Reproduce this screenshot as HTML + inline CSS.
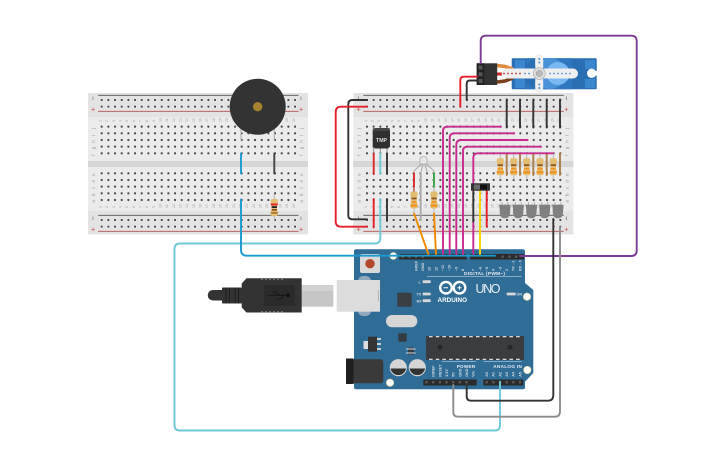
<!DOCTYPE html>
<html><head><meta charset="utf-8"><title>Circuit</title>
<style>
html,body{margin:0;padding:0;background:#fff;width:725px;height:453px;overflow:hidden}
svg{display:block}
text{font-family:"Liberation Sans",sans-serif}
.n{font-size:3.6px;fill:#a5a5a5}
.l{font-size:4.6px;fill:#999}
.p{font-size:3.7px;font-weight:bold;fill:#d5dee5}
.w{fill:none;stroke-linecap:round;stroke-linejoin:round;stroke-width:1.9}
</style></head><body>
<svg width="725" height="453" viewBox="0 0 725 453" xmlns="http://www.w3.org/2000/svg">
<defs>
<pattern id="h" patternUnits="userSpaceOnUse" width="6.667" height="6.667" patternTransform="translate(3.7,3.67)">
<circle cx="3.33" cy="3.33" r="1.9" fill="#f2f2f2"/><circle cx="3.33" cy="3.33" r="1.15" fill="#4a4a4a"/>
</pattern>
<g id="nums">
<text class="n" x="15" y="0" transform="rotate(-90 15 0)">1</text><text class="n" x="21.7" y="0" transform="rotate(-90 21.7 0)">2</text><text class="n" x="28.4" y="0" transform="rotate(-90 28.4 0)">3</text><text class="n" x="35" y="0" transform="rotate(-90 35 0)">4</text><text class="n" x="41.7" y="0" transform="rotate(-90 41.7 0)">5</text><text class="n" x="48.4" y="0" transform="rotate(-90 48.4 0)">6</text><text class="n" x="55" y="0" transform="rotate(-90 55 0)">7</text><text class="n" x="61.7" y="0" transform="rotate(-90 61.7 0)">8</text><text class="n" x="68.4" y="0" transform="rotate(-90 68.4 0)">9</text><text class="n" x="75" y="0" transform="rotate(-90 75 0)">10</text><text class="n" x="81.7" y="0" transform="rotate(-90 81.7 0)">11</text><text class="n" x="88.4" y="0" transform="rotate(-90 88.4 0)">12</text><text class="n" x="95" y="0" transform="rotate(-90 95 0)">13</text><text class="n" x="101.7" y="0" transform="rotate(-90 101.7 0)">14</text><text class="n" x="108.4" y="0" transform="rotate(-90 108.4 0)">15</text><text class="n" x="115" y="0" transform="rotate(-90 115 0)">16</text><text class="n" x="121.7" y="0" transform="rotate(-90 121.7 0)">17</text><text class="n" x="128.4" y="0" transform="rotate(-90 128.4 0)">18</text><text class="n" x="135" y="0" transform="rotate(-90 135 0)">19</text><text class="n" x="141.7" y="0" transform="rotate(-90 141.7 0)">20</text><text class="n" x="148.4" y="0" transform="rotate(-90 148.4 0)">21</text><text class="n" x="155" y="0" transform="rotate(-90 155 0)">22</text><text class="n" x="161.7" y="0" transform="rotate(-90 161.7 0)">23</text><text class="n" x="168.4" y="0" transform="rotate(-90 168.4 0)">24</text><text class="n" x="175" y="0" transform="rotate(-90 175 0)">25</text><text class="n" x="181.7" y="0" transform="rotate(-90 181.7 0)">26</text><text class="n" x="188.4" y="0" transform="rotate(-90 188.4 0)">27</text><text class="n" x="195" y="0" transform="rotate(-90 195 0)">28</text><text class="n" x="201.7" y="0" transform="rotate(-90 201.7 0)">29</text><text class="n" x="208.4" y="0" transform="rotate(-90 208.4 0)">30</text>
</g>
<g id="let">
<text class="l" x="0" y="35.3" transform="rotate(-90 0 35.3) translate(-1 0)">j</text><text class="l" x="0" y="42" transform="rotate(-90 0 42) translate(-1 0)">i</text><text class="l" x="0" y="48.7" transform="rotate(-90 0 48.7) translate(-1 0)">h</text><text class="l" x="0" y="55.3" transform="rotate(-90 0 55.3) translate(-1 0)">g</text><text class="l" x="0" y="62" transform="rotate(-90 0 62) translate(-1 0)">f</text>
<text class="l" x="0" y="82" transform="rotate(-90 0 82) translate(-1 0)">e</text><text class="l" x="0" y="88.7" transform="rotate(-90 0 88.7) translate(-1 0)">d</text><text class="l" x="0" y="95.3" transform="rotate(-90 0 95.3) translate(-1 0)">c</text><text class="l" x="0" y="102" transform="rotate(-90 0 102) translate(-1 0)">b</text><text class="l" x="0" y="108.7" transform="rotate(-90 0 108.7) translate(-1 0)">a</text>
</g>
<g id="bb">
<rect x="0" y="0" width="220" height="141.5" rx="1.5" fill="#e3e3e3"/>
<rect x="0" y="24" width="220" height="44" fill="#ebebeb"/>
<rect x="0" y="74" width="220" height="44" fill="#ebebeb"/>
<rect x="0" y="68" width="220" height="6" fill="#d6d6d6"/>
<path d="M10 2.3H210.5M10 122.3H210.5" stroke="#555" stroke-width=".8"/>
<path d="M10 18.3H210.5M10 138.3H210.5" stroke="#b5504f" stroke-width=".8"/>
<rect x="10.4" y="3.67" width="200" height="13.33" fill="url(#h)"/>
<rect x="10.4" y="30.33" width="200" height="33.33" fill="url(#h)"/>
<rect x="10.4" y="77" width="200" height="33.33" fill="url(#h)"/>
<rect x="10.4" y="123.67" width="200" height="13.33" fill="url(#h)"/>
<use href="#nums" transform="translate(-1.5,29)"/>
<use href="#nums" transform="translate(-1.5,115)"/>
<use href="#let" transform="translate(7,0)"/>
<use href="#let" transform="translate(215,0)"/>
<path d="M5 3.5V7M213 3.5V7M5 123.5V127M213 123.5V127" stroke="#666" stroke-width=".6"/>
<path d="M3.3 16.3H7M5.1 14.5V18.1M211.3 16.3H215M213.1 14.5V18.1M3.3 136.3H7M5.1 134.5V138.1M211.3 136.3H215M213.1 134.5V138.1" stroke="#c9605f" stroke-width=".7"/>
</g>
<g id="res0">
<path d="M0 -8.5V-13M0 8.5V13" stroke="#b5b5b5" stroke-width="1"/>
<path d="M-2 -8.5Q-3.5 -8.5 -3.5 -6.5V-4L-2.7 -2.5V2.5L-3.5 4V6.5Q-3.5 8.5 -2 8.5H2Q3.5 8.5 3.5 6.5V4L2.7 2.5V-2.5L3.5 -4V-6.5Q3.5 -8.5 2 -8.5Z" fill="#e3bd72"/>
</g>
<g id="res">
<use href="#res0"/>
<rect x="-2.7" y="-2.4" width="5.4" height="1.7" fill="#8a5320"/>
<rect x="-2.7" y="1.2" width="5.4" height="1.7" fill="#ee9320"/>
<rect x="-3.5" y="4.4" width="7" height="2.3" fill="#ee9320"/>
</g>
<g id="led">
<path d="M-3 -9V-6M3 -9V-6" stroke="#aaa" stroke-width="1"/>
<path d="M-6 -6.5H5.5V-4.5L5 1Q5 7 -.2 7Q-5.2 7 -5.2 1L-5.5 -4.5Z" fill="#808080"/>
</g>
</defs>

<!-- breadboards -->
<use href="#bb" transform="translate(88,93)"/>
<use href="#bb" transform="translate(353.3,93)"/>

<!-- Arduino -->
<path d="M356 249.3H522.7Q525 249.3 525 251.5V283L533.3 290V373L525 381.7V387.3Q525 389.3 523 389.3H356Q354 389.3 354 387.3V251.3Q354 249.3 356 249.3Z" fill="#2f6c96"/>
<rect x="399.3" y="254" width="67.4" height="5.5" fill="#2b2b2b"/>
<rect x="470" y="254" width="54" height="5.5" fill="#2b2b2b"/>
<rect x="423.3" y="379.5" width="53.4" height="6" fill="#2b2b2b"/>
<rect x="483.3" y="379.5" width="40" height="6" fill="#2b2b2b"/>
<g fill="#5a5a5a">
<rect x="401.5" y="255.5" width="2.4" height="2.4"/><rect x="408.2" y="255.5" width="2.4" height="2.4"/><rect x="414.8" y="255.5" width="2.4" height="2.4"/><rect x="421.5" y="255.5" width="2.4" height="2.4"/><rect x="501.5" y="255.5" width="2.4" height="2.4"/><rect x="508.2" y="255.5" width="2.4" height="2.4"/><rect x="514.8" y="255.5" width="2.4" height="2.4"/>
<rect x="425.3" y="381" width="2.4" height="2.4"/><rect x="432" y="381" width="2.4" height="2.4"/><rect x="438.7" y="381" width="2.4" height="2.4"/><rect x="445.3" y="381" width="2.4" height="2.4"/><rect x="452" y="381" width="2.4" height="2.4"/><rect x="458.7" y="381" width="2.4" height="2.4"/><rect x="465.3" y="381" width="2.4" height="2.4"/>
<rect x="485.5" y="381" width="2.4" height="2.4"/><rect x="492.2" y="381" width="2.4" height="2.4"/><rect x="498.8" y="381" width="2.4" height="2.4"/><rect x="505.5" y="381" width="2.4" height="2.4"/><rect x="512.2" y="381" width="2.4" height="2.4"/><rect x="518.8" y="381" width="2.4" height="2.4"/>
</g>
<g fill="#fff" stroke="#e8e0b0" stroke-width=".8">
<circle cx="393.3" cy="256" r="3.4"/><circle cx="527" cy="296.7" r="3.6"/><circle cx="527.3" cy="370" r="3.6"/><circle cx="390" cy="382.7" r="3.6"/>
</g>
<rect x="360" y="254" width="20" height="19" rx="2" fill="#d9d9d9"/>
<circle cx="370" cy="263.7" r="4.7" fill="#b5472d"/>
<!-- USB socket -->
<rect x="358" y="276" width="13" height="40" rx="5" fill="#8fa9bd"/>
<rect x="336.7" y="280" width="43.3" height="31.7" fill="#dcdcdc"/>
<rect x="378" y="290" width=".8" height="11" fill="#aaa"/>
<!-- plug -->
<rect x="301.7" y="285" width="31.6" height="21.7" fill="#c6c6c6"/>
<rect x="301.7" y="285" width="31.6" height="6" fill="#d2d2d2"/>
<path d="M246.5 278.3H301.7V312.5H246.5L241.7 307.5V283.5Z" fill="#333"/>
<rect x="222" y="287.5" width="20" height="16" rx="1" fill="#333"/>
<path d="M226 288V303M229.5 288V303M235 288V303M238.5 288V303" stroke="#1d1d1d" stroke-width="1"/>
<path d="M222.3 290H213A5 5 0 0 0 213 300.5H222.3Z" fill="#333"/>
<rect x="264" y="285" width="31" height="20.7" fill="#2a2a2a"/>
<path d="M268 295.3H289M273 292L276 292L279 295.3M277 299H281L283 295.3" stroke="#141414" stroke-width=".8" fill="none"/>
<circle cx="288" cy="295.3" r="2" fill="#141414"/>
<path d="M262 278.8V280M266 278.8V280M270 278.8V280M274 278.8V280M278 278.8V280M282 278.8V280M262 311V312.2M266 311V312.2M270 311V312.2M274 311V312.2M278 311V312.2M282 311V312.2" stroke="#bbb" stroke-width=".9"/>
<!-- board chips -->
<rect x="397.3" y="292.7" width="14.4" height="14" rx=".8" fill="#3a3f44"/>
<rect x="386" y="315" width="31.3" height="12.3" rx="6" fill="#d6d6d6"/>
<rect x="368" y="336.7" width="9" height="15" fill="#333"/>
<rect x="363.5" y="341" width="4.5" height="8" fill="#ddd"/>
<path d="M377 339H381M377 344H381M377 349H381" stroke="#ddd" stroke-width="1.8"/>
<rect x="398.3" y="333.3" width="8.4" height="8.4" rx=".8" fill="#333c42"/>
<rect x="408" y="347.5" width="6" height="7" fill="#333c42"/>
<path d="M406 349H415.5M406 353H415.5" stroke="#ddd" stroke-width="1"/>
<rect x="426" y="336" width="98" height="24" fill="#3a3d40"/>
<path d="M429 336.7H521M429 359.3H521" stroke="#eee" stroke-width="1.2" stroke-dasharray="3.6 3.1"/>
<circle cx="440" cy="347.3" r="2.6" fill="#26282a"/><circle cx="510" cy="347.3" r="2.6" fill="#26282a"/>
<circle cx="398.3" cy="367.7" r="8.6" fill="#d5d5d5"/><path d="M390.6 368.5A7.8 7.8 0 0 0 406 368.5Z" fill="#333"/>
<circle cx="417.3" cy="367.7" r="8.6" fill="#d5d5d5"/><path d="M409.6 368.5A7.8 7.8 0 0 0 425 368.5Z" fill="#333"/>
<rect x="349" y="359.3" width="34.3" height="24" rx="3" fill="#3a3a3a"/>
<rect x="346" y="358.5" width="7.5" height="25.5" fill="#1f1f1f"/>
<!-- small leds -->
<g fill="#d8d8d8"><rect x="422.7" y="280.3" width="8" height="2.8" rx=".6"/><rect x="422.7" y="292.6" width="8" height="2.8" rx=".6"/><rect x="422.7" y="299.3" width="8" height="2.8" rx=".6"/><rect x="506.7" y="292.6" width="9" height="2.8" rx=".6"/></g>
<!-- logo -->
<circle cx="446" cy="287.7" r="5.8" fill="none" stroke="#fff" stroke-width="2.4"/>
<circle cx="459.5" cy="287.7" r="5.8" fill="none" stroke="#fff" stroke-width="2.4"/>
<path d="M443.5 287.7H448M457.5 287.7H461.5M459.5 285.7V289.7" stroke="#fff" stroke-width="1"/>
<text x="437.5" y="301.8" font-size="6.3" font-weight="bold" fill="#fff" textLength="29.5">ARDUINO</text>
<text x="475.5" y="293" font-size="12.5" fill="#e6eef3" textLength="25">UNO</text>
<text x="464" y="275" font-size="4.8" font-weight="bold" fill="#e6eef3" textLength="41">DIGITAL (PWM~)</text>
<path d="M427 276.4H521.7M441.7 361.7H476M483.3 361.7H521.7" stroke="#dfe8ee" stroke-width=".5"/>
<text x="456.7" y="367.8" font-size="4.6" font-weight="bold" fill="#e6eef3" textLength="18.5">POWER</text>
<text x="493.3" y="367.8" font-size="4.6" font-weight="bold" fill="#e6eef3" textLength="28.5">ANALOG IN</text>
<text class="p" x="418.5" y="283.3">L</text><text class="p" x="416.5" y="295.6">TX</text><text class="p" x="416.5" y="302.3">RX</text><text class="p" x="516.5" y="295.6">ON</text>
<text class="p" transform="translate(417.5,271) rotate(-90)">AREF</text><text class="p" transform="translate(424,271) rotate(-90)">GND</text><text class="p" transform="translate(430.7,271) rotate(-90)">13</text><text class="p" transform="translate(437.4,271) rotate(-90)">12</text><text class="p" transform="translate(444,271) rotate(-90)">~11</text><text class="p" transform="translate(450.7,271) rotate(-90)">~10</text><text class="p" transform="translate(457.4,271) rotate(-90)">~9</text><text class="p" transform="translate(464,271) rotate(-90)">8</text>
<text class="p" transform="translate(474.7,271) rotate(-90)">7</text><text class="p" transform="translate(481.4,271) rotate(-90)">~6</text><text class="p" transform="translate(488,271) rotate(-90)">~5</text><text class="p" transform="translate(494.7,271) rotate(-90)">4</text><text class="p" transform="translate(501.4,271) rotate(-90)">~3</text><text class="p" transform="translate(508,271) rotate(-90)">2</text><text class="p" transform="translate(514.7,271) rotate(-90)">TX→1</text><text class="p" transform="translate(521.4,271) rotate(-90)">RX←0</text>
<text class="p" transform="translate(434.7,376.8) rotate(-90)">IOREF</text><text class="p" transform="translate(441.4,376.8) rotate(-90)">RESET</text><text class="p" transform="translate(448,376.8) rotate(-90)">3.3V</text><text class="p" transform="translate(454.7,376.8) rotate(-90)">5V</text><text class="p" transform="translate(461.4,376.8) rotate(-90)">GND</text><text class="p" transform="translate(468,376.8) rotate(-90)">GND</text><text class="p" transform="translate(474.7,376.8) rotate(-90)">Vin</text>
<text class="p" transform="translate(488,376.8) rotate(-90)">A0</text><text class="p" transform="translate(494.7,376.8) rotate(-90)">A1</text><text class="p" transform="translate(501.4,376.8) rotate(-90)">A2</text><text class="p" transform="translate(508,376.8) rotate(-90)">A3</text><text class="p" transform="translate(514.7,376.8) rotate(-90)">A4</text><text class="p" transform="translate(521.4,376.8) rotate(-90)">A5</text>

<!-- servo -->
<rect x="511.7" y="58.3" width="85" height="31" rx="1" fill="#2a6eb4"/>
<rect x="515" y="60" width="10" height="9" fill="#3a86cf"/><rect x="515" y="79" width="10" height="9" fill="#3a86cf"/>
<rect x="585" y="60" width="10" height="9" fill="#3a86cf"/><rect x="585" y="79" width="10" height="9" fill="#3a86cf"/>
<path d="M526 58.3H572V89.3H526Z" fill="#2f78c0"/>
<circle cx="539.3" cy="73.5" r="15.5" fill="#2a6eb4"/>
<circle cx="550" cy="73.5" r="15.5" fill="#4a92d8"/>
<circle cx="558" cy="73.5" r="11.5" fill="#79b8f2"/>
<circle cx="591.7" cy="73.3" r="4.7" fill="#fff"/><rect x="591.7" y="71" width="5.5" height="4.6" fill="#fff"/>
<path d="M497 65.5L505 66.5L513 69" stroke="#e08a3c" stroke-width="3.5" fill="none"/>
<path d="M497 74L513 74" stroke="#c8282c" stroke-width="3"/>
<path d="M497 82L505 81L513 78" stroke="#7a3f1c" stroke-width="3.5" fill="none"/>
<rect x="501.7" y="68.5" width="76.3" height="10" rx="5" fill="#efefef"/>
<path d="M535.3 68.5Q535 60 535.3 58A3.9 3.9 0 0 1 543.1 58Q543.4 60 543.1 68.5V78.5Q543.4 86 543.1 89A3.9 3.9 0 0 1 535.3 89Q535 86 535.3 78.5Z" fill="#efefef"/>
<circle cx="539.3" cy="73.5" r="6" fill="#ddd" stroke="#aaa" stroke-width=".6"/><circle cx="539.3" cy="73.5" r="3" fill="#bbb" stroke="#888" stroke-width=".5"/>
<g fill="#b0333a"><circle cx="504" cy="73.5" r=".9"/><circle cx="508" cy="73.5" r=".9"/><circle cx="512" cy="73.5" r=".9"/><circle cx="516" cy="73.5" r=".9"/><circle cx="520" cy="73.5" r=".9"/></g>
<g fill="#4a90d0"><circle cx="525" cy="73.5" r=".9"/><circle cx="529" cy="73.5" r=".9"/><circle cx="550" cy="73.5" r=".9"/><circle cx="554" cy="73.5" r=".9"/><circle cx="558" cy="73.5" r=".9"/><circle cx="562" cy="73.5" r=".9"/><circle cx="566" cy="73.5" r=".9"/><circle cx="570" cy="73.5" r=".9"/><circle cx="539.3" cy="59" r="1"/><circle cx="539.3" cy="62.5" r="1"/><circle cx="539.3" cy="84.5" r="1"/><circle cx="539.3" cy="88" r="1"/></g>
<rect x="476.7" y="63.3" width="20.5" height="21.7" fill="#333"/>
<rect x="476.7" y="63.3" width="7.5" height="21.7" fill="#222"/>
<rect x="478.5" y="65.5" width="4" height="4" fill="#555"/><rect x="478.5" y="72.3" width="4" height="4" fill="#555"/><rect x="478.5" y="79" width="4" height="4" fill="#555"/>

<!-- buzzer -->
<path d="M241 128V141M274.3 128V141" stroke="#a8a8a8" stroke-width="1"/>
<circle cx="257.7" cy="106.7" r="28" fill="#333"/>
<circle cx="257.7" cy="106.7" r="4.7" fill="#a5822f"/>

<!-- board1 parts -->
<path d="M241 153.5V173.5" class="w" stroke="#1b9ad0"/>
<path d="M274.3 153.5V173.5" class="w" stroke="#444"/>
<use href="#res0" transform="translate(274.3,207.5)"/>
<rect x="270.8" y="203.5" width="7" height="1.9" fill="#d22"/>
<rect x="271.6" y="206.2" width="5.4" height="1.8" fill="#222"/>
<rect x="271.6" y="209" width="5.4" height="1.7" fill="#8a5320"/>
<rect x="270.8" y="212" width="7" height="1.7" fill="#a87a30"/>

<!-- board2 wires -->
<g>
<path class="w" d="M367 100H352.5Q348.3 100 348.3 104V215.5Q348.3 219.3 352.5 219.3H367" stroke="#333"/>
<path class="w" d="M367 106.7H341Q335.7 106.7 335.7 112V221.5Q335.7 226.7 341 226.7H367" stroke="#e3202a"/>
<path class="w" d="M373.7 153.5V174" stroke="#d9282a"/>
<path class="w" d="M387 153.5V174" stroke="#333"/>
<path class="w" d="M373.7 199V227.5" stroke="#e3202a"/>
<path class="w" d="M387 199V221" stroke="#333"/>
<path class="w" d="M380.3 153.5V174" stroke="#6fc8d6"/>
<path class="w" d="M380.3 199V238Q380.3 243.5 375 243.5H180Q174.5 243.5 174.5 249V425Q174.5 430.5 180 430.5H495Q500 430.5 500 425V381.7" stroke="#6fc8d6"/>
<path class="w" d="M241 199.5V250Q241 255.7 247 255.7H495" stroke="#1b9ad0"/>
<path class="w" d="M460.3 106.7V80Q460.3 76.7 464 76.7H477" stroke="#e3202a"/>
<path class="w" d="M466.7 100V83.5Q466.7 80.5 470 80.5H477" stroke="#333"/>
<path class="w" d="M480.7 63V41Q480.7 35.7 486 35.7H631Q636.7 35.7 636.7 41V250.5Q636.7 256 631 256H520" stroke="#7b3b96"/>
<path class="w" d="M506.7 99.5V127.5M520 99.5V127.5M533.3 99.5V127.5M546.7 99.5V127.5M560 99.5V127.5" stroke="#333"/>
<path class="w" d="M506.7 153.5V175M520 153.5V175M533.3 153.5V175M546.7 153.5V175M560 153.5V175" stroke="#ab7f48"/>
<path class="w" d="M501 126.7H447.5Q443 126.7 443 131V254" stroke="#c92a8e"/>
<path class="w" d="M514.3 133.3H454.5Q449.7 133.3 449.7 138V254" stroke="#c92a8e"/>
<path class="w" d="M527.7 140H461Q456.3 140 456.3 145V254" stroke="#c92a8e"/>
<path class="w" d="M541 146.7H467.5Q463 146.7 463 151V254" stroke="#c92a8e"/>
<path class="w" d="M553.3 153.3H478Q473.3 153.3 473.3 158V191" stroke="#c92a8e"/>
<path class="w" d="M473.3 221V254" stroke="#c92a8e"/>
<path class="w" d="M473.3 191.7V221.5" stroke="#333"/>
<path class="w" d="M480 191V254" stroke="#f7d400"/>
<path class="w" d="M486.7 191V226.7" stroke="#e3202a"/>
<path class="w" d="M414 213.3L428.3 254" stroke="#f08a00"/>
<path class="w" d="M434 213.3L436 254" stroke="#f08a00"/>
<path class="w" d="M414 173V191.5" stroke="#d9282a"/>
<path class="w" d="M420.7 173V220" stroke="#aaa"/>
<path class="w" d="M434 173V187" stroke="#3aa648"/>
<path class="w" d="M553.3 219V395Q553.3 400.7 548 400.7H471Q466.7 400.7 466.7 396V385" stroke="#333"/>
<path class="w" d="M560 227V411Q560 416.7 555 416.7H458Q453.3 416.7 453.3 412V385" stroke="#8c8c8c"/>
</g>

<!-- TMP -->
<path d="M373.7 147V153M380.3 147V153M387 147V153" stroke="#888" stroke-width="1"/>
<path d="M372.7 146.5V131Q372.7 128 376 128H387Q390 128 390 131V146.5L388 148.5H375Z" fill="#2f2f2f"/>
<rect x="372.7" y="128" width="17.3" height="3" fill="#555" opacity=".6"/>
<text x="376" y="142" font-size="5.2" font-weight="bold" fill="#ddd" textLength="11">TMP</text>

<!-- RGB LED -->
<path d="M414 173L414 171L421.5 164M420.7 173L423 164M427.3 173L425 164M434 173L434 171L426.5 164" stroke="#aaa" stroke-width="1" fill="none"/>
<path d="M420 164V159Q420 156.7 423.5 156.7Q427 156.7 427 159V164Z" fill="#e8e8e8" stroke="#a5a5a5" stroke-width=".7"/>
<use href="#res" transform="translate(414,200)"/>
<use href="#res" transform="translate(434,200)"/>

<!-- resistors -->
<use href="#res" transform="translate(500.3,166.7)"/>
<use href="#res" transform="translate(513.7,166.7)"/>
<use href="#res" transform="translate(526.7,166.7)"/>
<use href="#res" transform="translate(540,166.7)"/>
<use href="#res" transform="translate(553.3,166.7)"/>

<!-- LEDs -->
<use href="#led" transform="translate(505,211.3)"/>
<use href="#led" transform="translate(518.3,211.3)"/>
<use href="#led" transform="translate(531.5,211.3)"/>
<use href="#led" transform="translate(544.8,211.3)"/>
<use href="#led" transform="translate(558,211.3)"/>

<!-- switch -->
<rect x="471" y="183.3" width="19" height="7.5" rx=".5" fill="#333"/>
<rect x="480" y="184.6" width="7" height="4.9" fill="#111"/>
<rect x="474" y="184.6" width="6" height="4.9" fill="#6a6a6a"/>
</svg>
</body></html>
